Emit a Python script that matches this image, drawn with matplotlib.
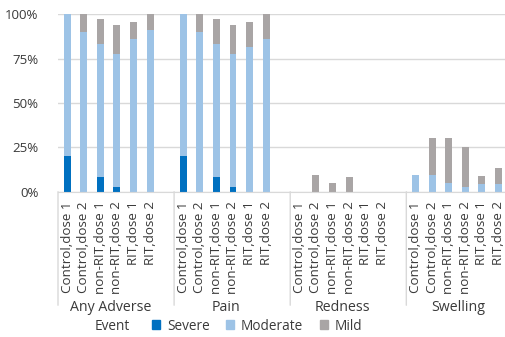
import matplotlib.pyplot as plt
from matplotlib.ticker import PercentFormatter
from matplotlib.patches import Patch

plt.rcParams['font.family'] = ['Open Sans', 'DejaVu Sans']

groups = ['Any Adverse', 'Pain', 'Redness', 'Swelling']
arms = ['Control,dose 1', 'Control,dose 2', 'non-RIT,dose 1',
        'non-RIT,dose 2', 'RIT,dose 1', 'RIT,dose 2']

# percent of participants, one row per event, one value per arm
severe = [[20, 0, 8.3, 2.5, 0, 0],
          [20, 0, 8.3, 2.5, 0, 0],
          [0, 0, 0, 0, 0, 0],
          [0, 0, 0, 0, 0, 0]]
moderate = [[80, 90, 75, 75, 86, 91],
            [80, 90, 75, 75, 81.8, 86],
            [0, 0, 0, 0, 0, 0],
            [9.4, 9.4, 5.1, 2.5, 4.3, 4.3]]
mild = [[0, 10, 14.3, 16.7, 9.5, 9],
        [0, 10, 14.3, 16.7, 13.7, 14],
        [0, 9.4, 5.1, 8.3, 0, 0],
        [0, 20.7, 25, 22.5, 4.4, 8.9]]

c_sev = '#0070C0'
c_mod = '#9DC3E6'
c_mild = '#A9A5A5'
txt = '#3A3A3A'

fig = plt.figure(figsize=(5.05, 3.37), dpi=100)
ax = fig.add_axes([58 / 505, 1 - 191.7 / 337, 1 - 58 / 505, 177.4 / 337])

slot = len(arms) + 1
xs, labels = [], []
for g in range(len(groups)):
    x = [g * slot + i for i in range(len(arms))]
    s, m, l = severe[g], moderate[g], mild[g]
    ax.bar(x, s, width=0.42, color=c_sev, zorder=2)
    ax.bar(x, m, bottom=s, width=0.42, color=c_mod, zorder=2)
    ax.bar(x, l, bottom=[a + b for a, b in zip(s, m)], width=0.42,
           color=c_mild, zorder=2)
    xs += x
    labels += arms

ax.set_xlim(-0.55, 26.4)
ax.set_ylim(0, 100)
ax.set_yticks([0, 25, 50, 75, 100])
ax.yaxis.set_major_formatter(PercentFormatter(decimals=0))
ax.grid(axis='y', color='#D9D9D9', linewidth=1, zorder=0)
for sp in ['top', 'right', 'left']:
    ax.spines[sp].set_visible(False)
ax.spines['bottom'].set_color('#D9D9D9')
ax.set_xticks(xs)
ax.set_xticklabels(labels, rotation=90, fontsize=9.6, color=txt)
ax.tick_params(axis='x', length=0, pad=7)
ax.tick_params(axis='y', length=0, pad=14, labelsize=9.5, labelcolor=txt)

# group separators and group labels under the tick labels
for g, name in enumerate(groups):
    xl = g * slot - 0.55
    ax.annotate('', xy=(xl, 0), xycoords=('data', 'axes fraction'),
                xytext=(xl, -0.64), textcoords=('data', 'axes fraction'),
                arrowprops=dict(arrowstyle='-', color='#D9D9D9', lw=1,
                                shrinkA=0, shrinkB=0))
    ax.text(g * slot + 2.6, -0.655, name, transform=ax.get_xaxis_transform(),
            ha='center', va='center', fontsize=10.2, color=txt)

fig.text(95 / 505, 1 - 326 / 337, 'Event', fontsize=9.8, color=txt,
         ha='left', va='center')
handles = [Patch(color=c_sev, label='Severe'),
           Patch(color=c_mod, label='Moderate'),
           Patch(color=c_mild, label='Mild')]
leg = fig.legend(handles=handles, loc='center left',
                 bbox_to_anchor=(152 / 505, 1 - 326 / 337), ncol=3,
                 frameon=False, fontsize=9.8, handlelength=0.6,
                 handleheight=0.6, handletextpad=0.5, columnspacing=1.2,
                 borderpad=0, borderaxespad=0)
for t in leg.get_texts():
    t.set_color(txt)

fig.savefig('out.png', dpi=100)
